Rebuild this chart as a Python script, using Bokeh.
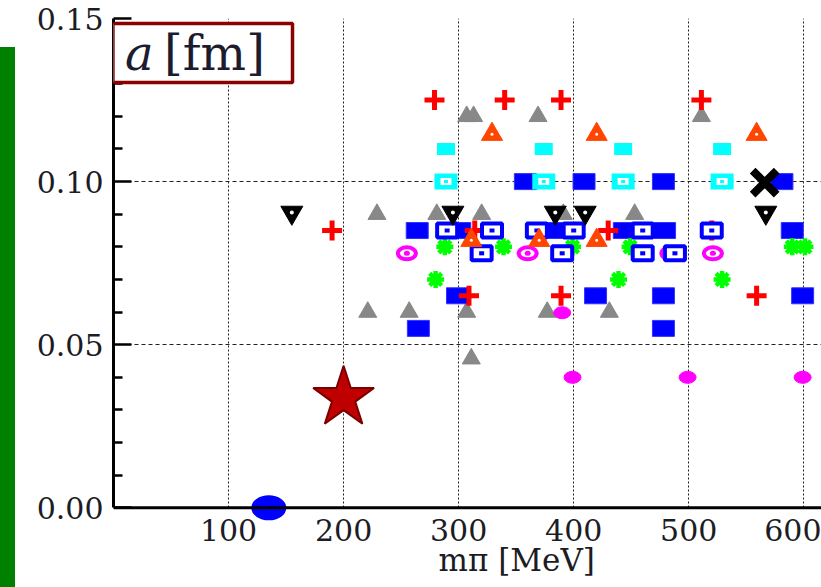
from bokeh.plotting import figure
from bokeh.layouts import row, column
from bokeh.models import Range1d, FixedTicker, PrintfTickFormatter, BoxAnnotation, Label, Span, Spacer
from bokeh.embed import file_html
from bokeh.resources import INLINE

# ---------------- data (m_pi [MeV], a [fm]) ----------------
x_ticks = [100, 200, 300, 400, 500, 600]
y_ticks = [0.0, 0.05, 0.10, 0.15]
y_minor = [0.01, 0.02, 0.03, 0.04, 0.06, 0.07, 0.08, 0.09, 0.11, 0.12, 0.13, 0.14]
x_label = "\u00a0" * 10 + "mπ [MeV]"
y_title_var = "a"
y_title_unit = "[fm]"

gray_tri_x = [307, 313, 369, 511, 229, 281, 320, 391, 453, 221, 257, 307, 377, 431, 311]
gray_tri_y = [0.12, 0.12, 0.12, 0.12, 0.09, 0.09, 0.09, 0.09, 0.09,
              0.06, 0.06, 0.06, 0.06, 0.06, 0.0457]

mag_fill_x = [390, 399, 499, 599]
mag_fill_y = [0.0598, 0.04, 0.04, 0.04]

blue_fill_x = [358, 409, 478, 581, 264, 301, 382, 444, 479, 590, 299, 419, 478, 599, 265, 478]
blue_fill_y = [0.10, 0.10, 0.10, 0.10, 0.085, 0.085, 0.085, 0.085, 0.085, 0.085,
               0.065, 0.065, 0.065, 0.065, 0.055, 0.055]

red_plus_x = [279, 340, 389, 511, 190, 314, 430, 520, 309, 389, 559]
red_plus_y = [0.125, 0.125, 0.125, 0.125, 0.085, 0.085, 0.085, 0.085, 0.065, 0.065, 0.065]

mag_ring_x = [255, 360, 484, 521]
mag_ring_y = [0.078, 0.078, 0.078, 0.078]

green_x = [288, 339, 399, 449, 590, 601, 280, 439, 529]
green_y = [0.08, 0.08, 0.08, 0.08, 0.08, 0.08, 0.07, 0.07, 0.07]

blue_open_x = [290, 329, 368, 400, 460, 520, 320, 390, 460, 488]
blue_open_y = [0.085, 0.085, 0.085, 0.085, 0.085, 0.085, 0.078, 0.078, 0.078, 0.078]

orange_x = [329, 420, 559, 311, 370, 420]
orange_y = [0.1145, 0.1145, 0.1145, 0.082, 0.082, 0.082]

cyan_x = [289, 374, 443, 529]
cyan_y = [0.11, 0.11, 0.11, 0.11]

cyan_dot_x = [289, 374, 443, 529]
cyan_dot_y = [0.10, 0.10, 0.10, 0.10]

black_tri_x = [155, 295, 384, 410, 567]
black_tri_y = [0.0905, 0.0905, 0.0905, 0.0905, 0.0905]

cross_x = [566]
cross_y = [0.0997]

star_x = [200]
star_y = [0.0337]

phys_x = [135]
phys_y = [0.0]

# ---------------- figure ----------------
p = figure(width=806, height=587, x_range=Range1d(0, 615.4), y_range=Range1d(-0.0045, 0.15),
           output_backend="svg", toolbar_location=None,
           min_border_left=98, min_border_right=0, min_border_top=18, min_border_bottom=65)
p.outline_line_color = None
p.background_fill_color = "white"
p.border_fill_color = "white"

tick_font = "DejaVu Serif"
tick_color = "#1c1c24"

# y axis
yax = p.yaxis[0]
yax.ticker = FixedTicker(ticks=y_ticks, minor_ticks=y_minor)
yax.formatter = PrintfTickFormatter(format="%.2f")
yax.bounds = (0, 0.15)
yax.axis_line_width = 3
yax.axis_line_color = "black"
yax.major_tick_in = 18
yax.major_tick_out = 0
yax.minor_tick_in = 9
yax.minor_tick_out = 0
yax.major_tick_line_width = 2.5
yax.minor_tick_line_width = 2.5
yax.major_label_text_font = tick_font
yax.major_label_text_font_size = "30px"
yax.major_label_text_color = tick_color
yax.major_label_standoff = 10

# x axis
xax = p.xaxis[0]
xax.ticker = FixedTicker(ticks=x_ticks)
xax.axis_line_color = None
xax.major_tick_in = 0
xax.major_tick_out = 0
xax.minor_tick_line_color = None
xax.major_label_text_font = tick_font
xax.major_label_text_font_size = "30px"
xax.major_label_text_color = tick_color
xax.major_label_standoff = -4
xax.axis_label = x_label
xax.axis_label_text_font = tick_font
xax.axis_label_text_font_size = "31px"
xax.axis_label_text_font_style = "normal"
xax.axis_label_text_color = tick_color
xax.axis_label_standoff = -2

# grids
p.xgrid.ticker = FixedTicker(ticks=x_ticks)
p.xgrid.grid_line_color = "#222222"
p.xgrid.grid_line_dash = "2 2"
p.xgrid.grid_line_width = 1
p.xgrid.cross_bounds = (0, 0.15)
p.ygrid.ticker = FixedTicker(ticks=[0.05, 0.10, 0.15])
p.ygrid.grid_line_color = "#222222"
p.ygrid.grid_line_dash = "4 3"
p.ygrid.grid_line_width = 1

# ---------------- markers ----------------
p.scatter(gray_tri_x, gray_tri_y, marker="triangle", size=18,
          fill_color="#888888", line_color="#888888")
p.ellipse(mag_fill_x, mag_fill_y, width=17, height=12, width_units="screen", height_units="screen",
          fill_color="#FF00FF", line_color="#FF00FF")
p.rect(blue_fill_x, blue_fill_y, width=22, height=16, width_units="screen", height_units="screen",
       fill_color="#0000FF", line_color="#3333FF", line_width=1)
p.scatter(red_plus_x, red_plus_y, marker="cross", size=20, line_width=5,
          line_color="#FF0000")
p.ellipse(mag_ring_x, mag_ring_y, width=18, height=12, width_units="screen", height_units="screen",
          fill_color="white", line_color="#FF00FF", line_width=4)
p.ellipse(mag_ring_x, mag_ring_y, width=6, height=5, width_units="screen", height_units="screen",
          fill_color="#FF00FF", line_color=None)
p.scatter(green_x, green_y, marker="asterisk", size=17, line_width=4.5,
          line_color="#00FF00")
p.rect(blue_open_x, blue_open_y, width=20, height=14, width_units="screen", height_units="screen",
       fill_color="white", line_color="#0000FF", line_width=4)
p.rect(blue_open_x, blue_open_y, width=5, height=4, width_units="screen", height_units="screen",
       fill_color="#0000FF", line_color=None)
p.scatter(orange_x, orange_y, marker="triangle", size=21,
          fill_color="#FF4500", line_color="#FF4500")
p.scatter(orange_x, orange_y, marker="circle", size=3,
          fill_color="white", line_color=None)
p.rect(cyan_x, cyan_y, width=18, height=12, width_units="screen", height_units="screen",
       fill_color="#00FFFF", line_color=None)
p.rect(cyan_dot_x, cyan_dot_y, width=23, height=16, width_units="screen", height_units="screen",
       fill_color="#00FFFF", line_color=None)
p.rect(cyan_dot_x, cyan_dot_y, width=11, height=7, width_units="screen", height_units="screen",
       fill_color="white", line_color=None)
p.rect(cyan_dot_x, cyan_dot_y, width=4, height=3, width_units="screen", height_units="screen",
       fill_color="#00FFFF", line_color=None)
p.scatter(black_tri_x, black_tri_y, marker="inverted_triangle", size=22,
          fill_color="black", line_color="black")
p.scatter(black_tri_x, black_tri_y, marker="circle", size=4,
          fill_color="white", line_color=None)
p.scatter(cross_x, cross_y, marker="x", size=34, line_width=8, line_color="black")
p.scatter(star_x, star_y, marker="star", size=64, fill_color="#C00000",
          line_color="#7A0000", line_width=2)
p.ellipse(phys_x, phys_y, width=35, height=25, width_units="screen", height_units="screen",
          fill_color="#0000FF", line_color=None)

# x axis line at a = 0 (drawn over the physical point, as in the original)
p.add_layout(Span(location=0, dimension="width", line_color="black", line_width=3))

# ---------------- title box ----------------
p.add_layout(BoxAnnotation(left=-0.5, right=155.6, bottom=0.1304, top=0.1485,
                           fill_color="white", fill_alpha=1.0,
                           line_color="#8B0000", line_width=3.5, line_alpha=1.0))
p.add_layout(Label(x=10, y=0.1393, text=y_title_var, text_font="DejaVu Serif",
                   text_font_style="italic", text_font_size="48px",
                   text_baseline="middle", text_color="#1c1c2e"))
p.add_layout(Label(x=44, y=0.1393, text=y_title_unit, text_font="DejaVu Serif",
                   text_font_size="48px", text_baseline="middle", text_color="#1c1c2e"))

# ---------------- slide decoration (green bar on the left) ----------------
left_bar = column(Spacer(width=15, height=47),
                  Spacer(width=15, height=540, styles={"background-color": "#008000"}))
layout = row(left_bar, p)

open("out.html", "w").write(file_html(layout, INLINE))
